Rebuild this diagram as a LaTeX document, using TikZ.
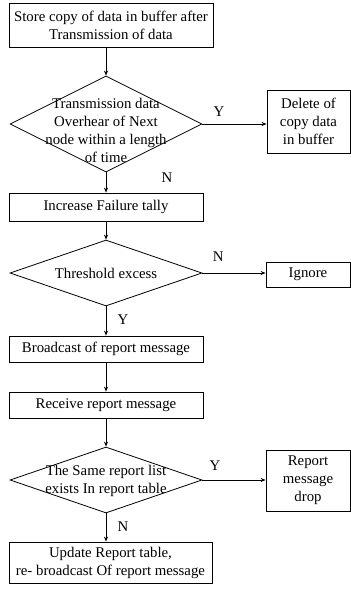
\documentclass[tikz,border=0pt]{standalone}
\usepackage{fontspec}
\setmainfont{Liberation Serif}
\usetikzlibrary{arrows.meta,positioning,calc,shapes.geometric}
\tikzset{
  procbox/.style={
    draw=black,
    line width=0.8pt,
    align=center,
    inner sep=0pt,
    font=\fontsize{14.8}{18}\selectfont
  },
  decision/.style={
    diamond,
    draw=black,
    line width=0.8pt,
    inner sep=0pt
  },
  dtext/.style={
    align=center,
    inner sep=0pt,
    font=\fontsize{14.8}{18}\selectfont
  },
  yn/.style={
    inner sep=0pt,
    font=\fontsize{14.8}{18}\selectfont
  },
  arr/.style={-{Stealth[length=5pt,width=4pt]},line width=0.8pt,black}
}

\begin{document}
\begin{tikzpicture}[x=1pt,y=-1pt]
  \useasboundingbox (0,0) rectangle (351,595);
  % main column
  \node[procbox,minimum width=204pt,minimum height=44pt] (store) at (111,25) {Store copy of data in buffer after\\Transmission of data};
  \node[decision,minimum width=192pt,minimum height=96pt] (d1) at (106,124) {};
  \node[dtext] (d1text) at (106,130) {Transmission data\\Overhear of\  Next\\node within a length\\of time};
  \node[procbox,minimum width=194pt,minimum height=28pt] (increase) at (106,207) {Increase Failure tally};
  \node[decision,minimum width=192pt,minimum height=66pt] (d2) at (106,273) {};
  \node[dtext] (d2text) at (106,273) {Threshold excess};
  \node[procbox,minimum width=194pt,minimum height=26pt] (broadcast) at (106,349) {Broadcast of report message};
  \node[procbox,minimum width=194pt,minimum height=26pt] (receive) at (106,405) {Receive report message};
  \node[decision,minimum width=192pt,minimum height=66pt] (d3) at (106,480) {};
  \node[dtext] (d3text) at (106,481) {The Same report\  list\\exists In report table};
  \node[procbox,minimum width=203pt,minimum height=41pt] (update) at (110.5,562.5) {Update Report table,\\re- broadcast Of report message};
  % side boxes
  \node[procbox,minimum width=83pt,minimum height=63pt] (delete) at (308.5,121.5) {Delete of\\copy data\\in buffer};
  \node[procbox,minimum width=84pt,minimum height=25pt] (ignore) at (308,274.5) {Ignore};
  \node[procbox,minimum width=84pt,minimum height=61pt] (drop) at (308,480.5) {Report\\message\\drop};
  % connectors
  \draw[arr] (d1.north |- store.south) -- (d1.north);
  \draw[arr] (d1.east) -- node[yn,pos=0.26,yshift=12pt] {Y} (d1.east -| delete.west);
  \draw[arr] (d1.south) -- node[yn,pos=0.24,xshift=61pt] {N} (increase.north);
  \draw[arr] (increase.south) -- (d2.north);
  \draw[arr] (d2.east) -- node[yn,pos=0.25,yshift=16pt] {N} (d2.east -| ignore.west);
  \draw[arr] (d2.south) -- node[yn,pos=0.47,xshift=17pt] {Y} (broadcast.north);
  \draw[arr] (broadcast.south) -- (receive.north);
  \draw[arr] (receive.south) -- (d3.north);
  \draw[arr] (d3.east) -- node[yn,pos=0.2,yshift=14pt] {Y} (d3.east -| drop.west);
  \draw[arr] (d3.south) -- node[yn,pos=0.48,xshift=17pt] {N} (d3.south |- update.north);
\end{tikzpicture}
\end{document}
